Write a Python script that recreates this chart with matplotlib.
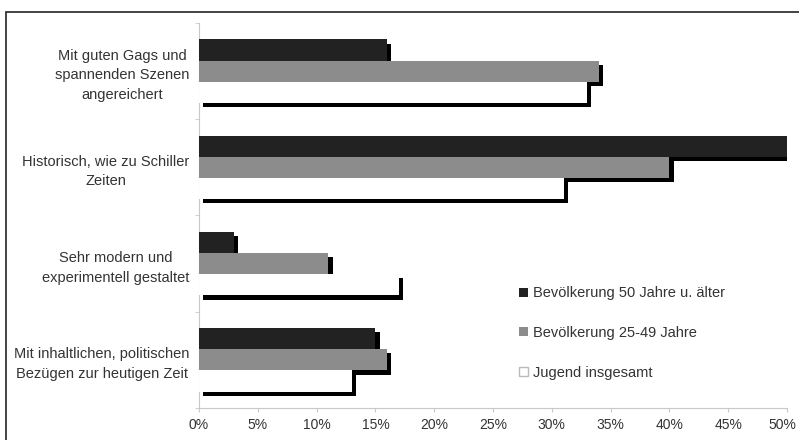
import numpy as np
import matplotlib
matplotlib.use('Agg')
import matplotlib.pyplot as plt
import matplotlib.patheffects as pe
import matplotlib.transforms as mtransforms
from matplotlib.patches import Rectangle

plt.rcParams['font.family'] = ['Liberation Sans', 'DejaVu Sans']

# Daten (Prozent)
categories = ['Mit guten Gags und\nspannenden Szenen\nangereichert',
              'Historisch, wie zu Schiller\nZeiten',
              'Sehr modern und\nexperimentell gestaltet',
              'Mit inhaltlichen, politischen\nBezügen zur heutigen Zeit']
series_names = ['Bevölkerung 50 Jahre u. älter',
                'Bevölkerung 25-49 Jahre',
                'Jugend insgesamt']
senioren = [16, 50, 3, 15]
mittel = [34, 40, 11, 16]
jugend = [33, 31, 17, 13]
x_ticks = [0, 5, 10, 15, 20, 25, 30, 35, 40, 45, 50]
x_ticklabels = ['0%', '5%', '10%', '15%', '20%', '25%', '30%', '35%', '40%', '45%', '50%']

colors = ['#222222', '#8c8c8c', '#ffffff']
all_series = [senioren, mittel, jugend]
fs = 10.5

fig = plt.figure(figsize=(7.99, 4.40), dpi=100)
ax = fig.add_axes([199 / 799, 1 - 408 / 440, (787 - 199) / 799, (408 - 23) / 440])

y = np.arange(len(categories))
h = 0.22
shadow = [pe.SimplePatchShadow(offset=(3, -3), shadow_rgbFace='black', alpha=1.0), pe.Normal()]
for i, (vals, col, name) in enumerate(zip(all_series, colors, series_names)):
    bars = ax.barh(y + (i - 1) * h, vals, height=h, color=col, label=name,
                   edgecolor='none', zorder=3)
    for b in bars:
        b.set_path_effects(shadow)

ax.set_xlim(0, 50)
ax.set_ylim(3.5, -0.5)
ax.set_xticks(x_ticks)
ax.set_xticklabels(x_ticklabels)
ax.set_yticks(y)
ax.set_yticklabels(categories, ha='right', multialignment='center', linespacing=1.5)
ax.set_yticks(np.arange(-0.5, 4, 1), minor=True)

for s in ['top', 'right']:
    ax.spines[s].set_visible(False)
for s in ['left', 'bottom']:
    ax.spines[s].set_color('#c8c8c8')
    ax.spines[s].set_linewidth(0.8)

ax.tick_params(axis='x', length=3, color='#c8c8c8', labelsize=10, labelcolor='#333333', pad=4)
ax.tick_params(axis='y', which='major', length=0, labelsize=fs, labelcolor='#333333', pad=7)
ax.tick_params(axis='y', which='minor', length=3, color='#c8c8c8')

# letzte Beschriftung etwas nach links, damit sie im Bild bleibt
last = ax.get_xticklabels()[-1]
last.set_transform(last.get_transform() + mtransforms.ScaledTranslation(-5 / 100, 0, fig.dpi_scale_trans))

leg = ax.legend(loc='center left', bbox_to_anchor=(519 / 799, 1 - 333 / 440),
                bbox_transform=fig.transFigure, frameon=False, fontsize=fs,
                handlelength=0.6, handleheight=0.6, handletextpad=0.35,
                labelspacing=1.75, borderpad=0, borderaxespad=0)
for t in leg.get_texts():
    t.set_color('#333333')
leg.legend_handles[2].set_edgecolor('#bbbbbb')
for lh in leg.legend_handles:
    lh.set_path_effects([])

# Rahmen
fig.add_artist(Rectangle((6 / 799, -0.1), 1.2, 1.1 - 12 / 440, transform=fig.transFigure,
                         fill=False, edgecolor='#222222', linewidth=1.2))

fig.savefig('out.png', dpi=100)
